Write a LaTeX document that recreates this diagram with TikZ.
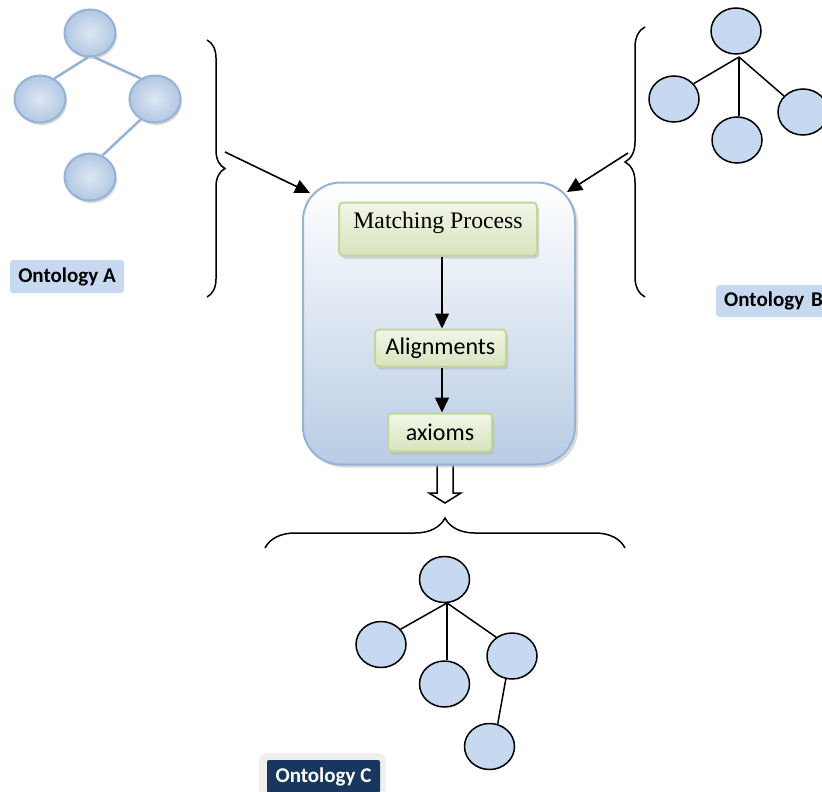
\documentclass[tikz,border=0pt]{standalone}
\usepackage{fontspec}
\setmainfont{Liberation Serif}
\newfontfamily\calib{Carlito}
\usetikzlibrary{decorations.pathreplacing,shadows,arrows.meta,shapes.geometric}

\definecolor{bluefill}{RGB}{198,217,240}
\definecolor{softedge}{RGB}{149,179,215}
\definecolor{softin}{RGB}{222,232,244}
\definecolor{softout}{RGB}{178,199,227}
\definecolor{greenedge}{RGB}{195,214,155}
\definecolor{greentop}{RGB}{242,246,232}
\definecolor{greenbot}{RGB}{214,228,188}
\definecolor{boxbot}{RGB}{184,204,228}
\definecolor{navy}{RGB}{23,55,94}
\definecolor{tagbg}{RGB}{240,240,240}

\tikzset{
  softnode/.style={ellipse, draw=softedge, line width=2pt, inner color=softin,
    outer color=softout, minimum width=51pt, minimum height=47pt, inner sep=0pt,
    drop shadow={shadow xshift=1.5pt, shadow yshift=-2.5pt, fill=gray!60}},
  plainnode/.style={ellipse, draw=black, line width=1.5pt, fill=bluefill,
    minimum width=50pt, minimum height=46pt, inner sep=0pt},
  softedgeline/.style={draw=softedge, line width=2.5pt},
  plainedge/.style={draw=black, line width=1.5pt},
  greenbox/.style={draw=greenedge, line width=2pt, top color=greentop,
    bottom color=greenbot, rounded corners=4pt, inner sep=0pt,
    drop shadow={shadow xshift=2pt, shadow yshift=-3pt, fill=gray!60}},
  tag/.style={font=\calib\bfseries\fontsize{21}{25}\selectfont,
    rounded corners=3pt, inner sep=0pt},
  conn/.style={line width=1.6pt, -{Triangle[length=15pt,width=14pt]}},
  curly/.style={decorate, decoration={brace, amplitude=#1}, line width=1.5pt},
}

\begin{document}
\begin{tikzpicture}[x=1pt,y=-1pt]
\clip (0,0) rectangle (822,792);
\fill[white] (0,0) rectangle (822,792);

% ---- Ontology A (soft, shaded tree) ----
\node[softnode] (a1) at (90,33) {};
\node[softnode] (a2) at (40,99) {};
\node[softnode] (a3) at (155,99) {};
\node[softnode] (a4) at (90,177) {};
\draw[softedgeline] (a1.-95) -- (a2.55);
\draw[softedgeline] (a1.-80) -- (a3.125);
\draw[softedgeline] (a3.-125) -- (a4.60);
\node[tag, fill=bluefill, minimum width=114pt, minimum height=33pt] (tagA) at (67,276.5) {Ontology A};

% ---- Ontology B ----
\node[plainnode] (b1) at (736,31) {};
\node[plainnode] (b2) at (674,99) {};
\node[plainnode] (b3) at (737,140) {};
\node[plainnode] (b4) at (803,112) {};
\coordinate (bhub) at (739,57);
\draw[plainedge] (bhub) -- (b2.38);
\draw[plainedge] (bhub) -- (b3.north -| bhub);
\draw[plainedge] (bhub) -- (b4.140);
\node[tag, fill=bluefill, minimum width=112pt, minimum height=32pt, anchor=west,
  text width=108pt, align=left] (tagB) at (716,301) {\hspace*{6pt}Ontology B};

% ---- braces around the inputs ----
\draw[curly=18pt] (207,40) -- (207,297);
\draw[curly=20pt] (645,297) -- (645,27);

% ---- hollow arrow below the process box ----
\draw[line width=1.5pt, fill=white] (437,462) -- (437,493) -- (429,493) -- (445,503)
  -- (461,493) -- (453,493) -- (453,462) -- cycle;

% ---- central process box ----
\node[draw=softedge, line width=2pt, top color=white, bottom color=boxbot,
  rounded corners=38pt, minimum width=272pt, minimum height=282pt,
  drop shadow={shadow xshift=3pt, shadow yshift=-3pt, fill=gray!55}] (proc) at (439,323.5) {};

\node[greenbox, minimum width=198pt, minimum height=53pt, text height=14pt, text depth=16pt,
  font=\fontsize{23.7}{28}\selectfont] (match) at (438,229) {Matching Process};
\node[greenbox, minimum width=131pt, minimum height=37pt,
  font=\calib\fontsize{24}{28}\selectfont] (align) at (440.5,348) {Alignments};
\node[greenbox, minimum width=104pt, minimum height=38pt,
  font=\calib\fontsize{24}{28}\selectfont] (axioms) at (440,432.5) {axioms};

\draw[conn] (match.south -| 442,0) -- (align.north -| 442,0);
\draw[conn] (align.south -| 442,0) -- (axioms.north -| 442,0);

% ---- inputs into the process box ----
\coordinate (tipA) at (225,152);
\coordinate (inA) at (310,193);
\coordinate (tipB) at (628,153);
\coordinate (inB) at (567,192);
\draw[conn] (tipA) -- (inA);
\draw[conn] (tipB) -- (inB);

% ---- brace over the result ----
\draw[curly=30pt] (265,548) -- (625,548);

% ---- Ontology C ----
\node[plainnode] (c1) at (444.5,579.5) {};
\node[plainnode] (c2) at (381,644.5) {};
\node[plainnode] (c3) at (444.5,684) {};
\node[plainnode] (c4) at (512,656) {};
\node[plainnode] (c5) at (489.5,746.5) {};
\coordinate (chub) at (447,603);
\draw[plainedge] (chub) -- (c2.38);
\draw[plainedge] (chub) -- (c3.north -| chub);
\draw[plainedge] (chub) -- (c4.130);
\draw[plainedge] (c4.-105) -- (c5.70);

\fill[tagbg, rounded corners=8pt] (259,753) rectangle (386,800);
\node[tag, fill=navy, text=white, minimum width=113pt, minimum height=33pt,
  rounded corners=2pt] (tagC) at (323.5,776.5) {Ontology C};
\end{tikzpicture}
\end{document}
